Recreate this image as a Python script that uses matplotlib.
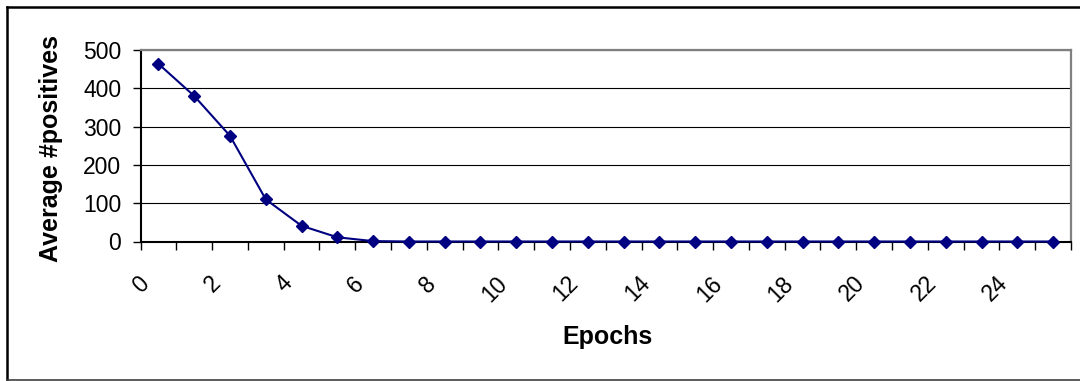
import matplotlib
matplotlib.use("Agg")
import matplotlib.pyplot as plt
from matplotlib.lines import Line2D
from matplotlib.transforms import ScaledTranslation

plt.rcParams['font.family'] = ['Liberation Sans', 'DejaVu Sans']

# average number of positives per epoch
epochs = list(range(26))
positives = [464, 380, 276, 110, 41, 11, 1, 0, 0, 0, 0, 0, 0,
             0, 0, 0, 0, 0, 0, 0, 0, 0, 0, 0, 0, 0]
xtick_labels = [str(i) if i % 2 == 0 and i <= 24 else '' for i in range(27)]
ytick_values = [0, 100, 200, 300, 400, 500]

W, H = 1080, 381
fig = plt.figure(figsize=(W / 100, H / 100), dpi=100)
fig.patch.set_facecolor('white')

# plot area placed in pixel terms
left, right, top, bottom = 140.5, 1071, 50, 241.5
ax = fig.add_axes([left / W, (H - bottom) / H, (right - left) / W, (bottom - top) / H])

# Excel style: points sit between tick marks
xpos = [e + 0.5 for e in epochs]
ax.plot(xpos, positives, color='#000080', lw=1.5, marker='D', ms=6.2,
        mfc='#000080', mec='#000080', clip_on=False, zorder=5)

ax.set_xlim(0, 26)
ax.set_ylim(0, 500)
ax.set_yticks(ytick_values)
ax.set_xticks(range(27))
ax.set_xticklabels(xtick_labels)

ax.grid(axis='y', color='black', lw=0.8)
ax.set_axisbelow(True)

for s in ['top', 'right']:
    ax.spines[s].set_color('#808080')
    ax.spines[s].set_linewidth(1.6)
for s in ['left', 'bottom']:
    ax.spines[s].set_color('black')
    ax.spines[s].set_linewidth(1.5)

ax.tick_params(axis='both', direction='out', length=5.8, width=1.0, color='black')
ax.tick_params(axis='y', labelsize=16.5, pad=8.0)
ax.tick_params(axis='x', labelsize=16.5, pad=16.0)

shift = ScaledTranslation(-3 / 100, 0, fig.dpi_scale_trans)
for lab in ax.get_xticklabels():
    lab.set_rotation(45)
    lab.set_rotation_mode('anchor')
    lab.set_ha('right')
    lab.set_va('top')
    lab.set_transform(lab.get_transform() + shift)

fig.text(608 / W, 1 - 337 / H, 'Epochs', ha='center', va='center',
         fontsize=18, fontweight='bold')
fig.text(51 / W, 1 - 148 / H, 'Average #positives', ha='center', va='center',
         rotation=90, fontsize=18, fontweight='bold')

# chart border (right side runs off the picture)
fig.add_artist(Line2D([7 / W, 7 / W], [1 - 7 / H, 1 - 380 / H], color='black', lw=1.8))
fig.add_artist(Line2D([7 / W, 1.01], [1 - 7 / H, 1 - 7 / H], color='black', lw=1.8))
fig.add_artist(Line2D([7 / W, 1.01], [1 - 380 / H, 1 - 380 / H], color='#404040', lw=1.2))

fig.savefig('out.png', dpi=100, facecolor='white')
